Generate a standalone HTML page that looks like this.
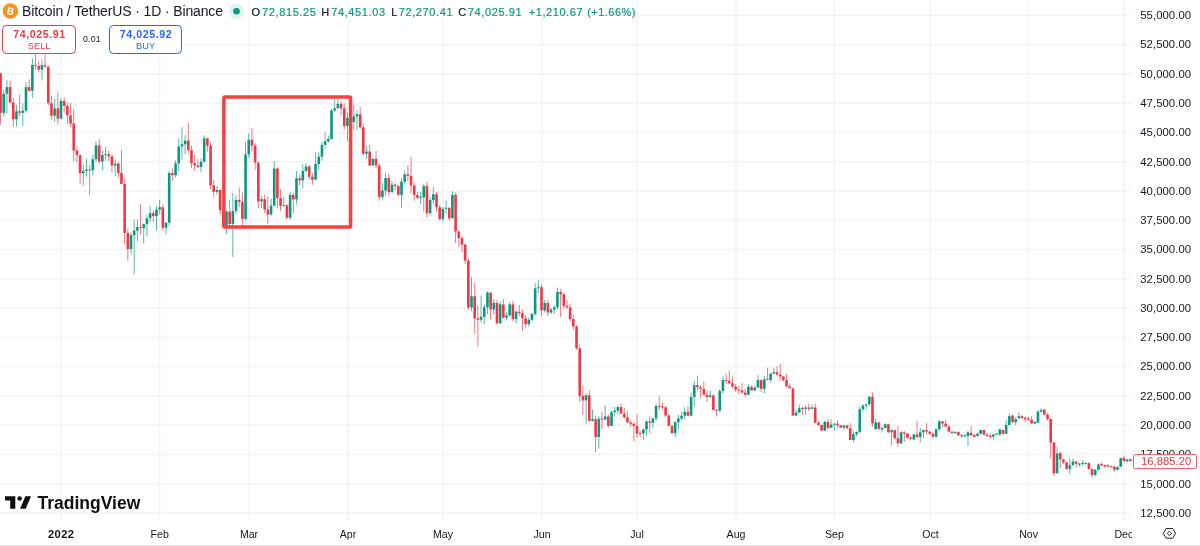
<!DOCTYPE html>
<html><head><meta charset="utf-8">
<style>
*{margin:0;padding:0;box-sizing:border-box}
html,body{width:1200px;height:546px;overflow:hidden;background:#fff}
#root{position:absolute;left:0;top:0;width:1200px;height:546px;will-change:transform}
body{position:relative;font-family:"Liberation Sans",Arial,sans-serif;color:#131722}
svg.chart{position:absolute;left:0;top:0}
.pl{position:absolute;left:1140.2px;height:14px;line-height:14px;font-size:11.3px;letter-spacing:0.08px;color:#131722;white-space:nowrap}
.taxis{position:absolute;left:0;top:520px;width:1132px;height:25px;overflow:hidden}
.tl{position:absolute;top:1px;width:60px;text-align:center;font-size:10.6px;line-height:26px;color:#131722}
.tl.b{font-weight:bold;font-size:11.2px;top:1.2px;letter-spacing:0.3px;text-indent:0.3px}
.title{position:absolute;left:22px;top:4.1px;font-size:14px;line-height:14px;letter-spacing:-0.13px;white-space:nowrap}
.o{position:absolute;top:7.1px;font-size:11px;line-height:11px;white-space:nowrap;color:#089981;letter-spacing:0.62px;-webkit-text-stroke:0.2px #089981}
.o.k{color:#131722;letter-spacing:0;-webkit-text-stroke:0.2px #131722}
.box{position:absolute;top:24.9px;width:73.5px;height:28.8px;border:1.2px solid;border-radius:4.5px;background:#fff}
.box .v{position:absolute;left:0;width:100%;text-align:center;top:3.3px;font-size:10.6px;line-height:10.6px;letter-spacing:0.6px;text-indent:0.6px;font-weight:bold}
.box .s{position:absolute;left:0;width:100%;text-align:center;top:16.2px;font-size:9.2px;line-height:9.2px;letter-spacing:0.1px;text-indent:0.1px}
.sell{left:2.4px;border-color:#F23645;color:#F23645}
.buy{left:108.9px;border-color:#2962FF;color:#2962FF}
.spread{position:absolute;left:83px;top:35.15px;font-size:8.8px;line-height:8.8px;letter-spacing:0.2px;color:#131722}
.tag{position:absolute;left:1133px;top:454.25px;width:63.75px;height:14.5px;border:1px solid #f4606d;border-radius:2px;background:#fff;color:#F23645;font-size:11.3px;line-height:12.5px;padding-left:7px;white-space:nowrap}
.logo{position:absolute;left:37.5px;top:492.8px;font-size:17.5px;font-weight:bold;line-height:20px;color:#0c0e15;white-space:nowrap}
.bline{position:absolute;left:0;top:544.5px;width:1200px;height:1.5px;background:#e0e3eb}
</style></head><body><div id="root">
<svg class="chart" width="1200" height="546" viewBox="0 0 1200 546">
<rect x="60.20" y="0" width="1.6" height="520.5" fill="rgba(50,50,50,0.046)"/>
<rect x="158.90" y="0" width="1.6" height="520.5" fill="rgba(50,50,50,0.046)"/>
<rect x="248.20" y="0" width="1.6" height="520.5" fill="rgba(50,50,50,0.046)"/>
<rect x="347.20" y="0" width="1.6" height="520.5" fill="rgba(50,50,50,0.046)"/>
<rect x="442.20" y="0" width="1.6" height="520.5" fill="rgba(50,50,50,0.046)"/>
<rect x="541.20" y="0" width="1.6" height="520.5" fill="rgba(50,50,50,0.046)"/>
<rect x="636.20" y="0" width="1.6" height="520.5" fill="rgba(50,50,50,0.046)"/>
<rect x="735.20" y="0" width="1.6" height="520.5" fill="rgba(50,50,50,0.046)"/>
<rect x="833.60" y="0" width="1.6" height="520.5" fill="rgba(50,50,50,0.046)"/>
<rect x="929.70" y="0" width="1.6" height="520.5" fill="rgba(50,50,50,0.046)"/>
<rect x="1027.80" y="0" width="1.6" height="520.5" fill="rgba(50,50,50,0.046)"/>
<rect x="1123.10" y="0" width="1.6" height="520.5" fill="rgba(50,50,50,0.046)"/>
<rect x="0" y="14.60" width="1132" height="1.6" fill="rgba(50,50,50,0.046)"/>
<rect x="0" y="43.87" width="1132" height="1.6" fill="rgba(50,50,50,0.046)"/>
<rect x="0" y="73.14" width="1132" height="1.6" fill="rgba(50,50,50,0.046)"/>
<rect x="0" y="102.41" width="1132" height="1.6" fill="rgba(50,50,50,0.046)"/>
<rect x="0" y="131.68" width="1132" height="1.6" fill="rgba(50,50,50,0.046)"/>
<rect x="0" y="160.95" width="1132" height="1.6" fill="rgba(50,50,50,0.046)"/>
<rect x="0" y="190.22" width="1132" height="1.6" fill="rgba(50,50,50,0.046)"/>
<rect x="0" y="219.49" width="1132" height="1.6" fill="rgba(50,50,50,0.046)"/>
<rect x="0" y="248.76" width="1132" height="1.6" fill="rgba(50,50,50,0.046)"/>
<rect x="0" y="278.03" width="1132" height="1.6" fill="rgba(50,50,50,0.046)"/>
<rect x="0" y="307.30" width="1132" height="1.6" fill="rgba(50,50,50,0.046)"/>
<rect x="0" y="336.57" width="1132" height="1.6" fill="rgba(50,50,50,0.046)"/>
<rect x="0" y="365.84" width="1132" height="1.6" fill="rgba(50,50,50,0.046)"/>
<rect x="0" y="395.11" width="1132" height="1.6" fill="rgba(50,50,50,0.046)"/>
<rect x="0" y="424.38" width="1132" height="1.6" fill="rgba(50,50,50,0.046)"/>
<rect x="0" y="453.65" width="1132" height="1.6" fill="rgba(50,50,50,0.046)"/>
<rect x="0" y="482.92" width="1132" height="1.6" fill="rgba(50,50,50,0.046)"/>
<rect x="0" y="512.19" width="1132" height="1.6" fill="rgba(50,50,50,0.046)"/>
<rect x="0" y="4.5" width="636.5" height="12.8" fill="#fff"/>
<g fill="#089981" opacity="0.75"><rect x="3.27" y="89.8" width="0.9" height="26.6"/><rect x="6.45" y="80.1" width="0.9" height="33.4"/><rect x="16.00" y="104.7" width="0.9" height="22.0"/><rect x="22.36" y="103.2" width="0.9" height="22.8"/><rect x="25.54" y="82.0" width="0.9" height="30.8"/><rect x="31.91" y="58.1" width="0.9" height="40.0"/><rect x="41.46" y="59.3" width="0.9" height="21.2"/><rect x="54.19" y="98.9" width="0.9" height="22.6"/><rect x="60.55" y="98.0" width="0.9" height="20.6"/><rect x="82.83" y="164.5" width="0.9" height="20.7"/><rect x="86.01" y="158.6" width="0.9" height="18.2"/><rect x="92.37" y="155.0" width="0.9" height="20.4"/><rect x="95.56" y="141.0" width="0.9" height="21.3"/><rect x="101.92" y="150.6" width="0.9" height="19.7"/><rect x="105.10" y="147.0" width="0.9" height="13.8"/><rect x="114.65" y="159.6" width="0.9" height="16.4"/><rect x="130.56" y="232.2" width="0.9" height="22.0"/><rect x="133.74" y="219.8" width="0.9" height="54.1"/><rect x="136.93" y="219.8" width="0.9" height="21.2"/><rect x="143.29" y="223.4" width="0.9" height="19.8"/><rect x="146.47" y="214.6" width="0.9" height="21.3"/><rect x="149.65" y="206.1" width="0.9" height="15.9"/><rect x="156.02" y="206.1" width="0.9" height="24.6"/><rect x="159.20" y="200.0" width="0.9" height="13.9"/><rect x="165.57" y="222.0" width="0.9" height="12.4"/><rect x="168.75" y="170.7" width="0.9" height="54.9"/><rect x="175.11" y="160.5" width="0.9" height="16.8"/><rect x="178.30" y="138.4" width="0.9" height="33.0"/><rect x="181.48" y="127.0" width="0.9" height="32.7"/><rect x="184.66" y="135.2" width="0.9" height="19.0"/><rect x="200.57" y="158.2" width="0.9" height="14.2"/><rect x="203.75" y="135.5" width="0.9" height="27.1"/><rect x="216.48" y="186.0" width="0.9" height="8.8"/><rect x="226.03" y="209.8" width="0.9" height="23.8"/><rect x="232.39" y="192.9" width="0.9" height="64.1"/><rect x="235.58" y="195.2" width="0.9" height="18.6"/><rect x="245.12" y="142.0" width="0.9" height="78.4"/><rect x="248.31" y="133.5" width="0.9" height="24.5"/><rect x="261.03" y="196.2" width="0.9" height="11.8"/><rect x="270.58" y="198.5" width="0.9" height="17.0"/><rect x="273.76" y="161.3" width="0.9" height="45.4"/><rect x="283.31" y="197.0" width="0.9" height="9.4"/><rect x="289.68" y="192.1" width="0.9" height="27.8"/><rect x="296.04" y="170.9" width="0.9" height="33.6"/><rect x="302.40" y="164.0" width="0.9" height="24.4"/><rect x="305.59" y="163.2" width="0.9" height="9.1"/><rect x="315.13" y="152.2" width="0.9" height="27.8"/><rect x="318.32" y="152.2" width="0.9" height="17.8"/><rect x="321.50" y="142.0" width="0.9" height="19.0"/><rect x="324.68" y="132.2" width="0.9" height="16.4"/><rect x="327.86" y="135.4" width="0.9" height="7.3"/><rect x="331.05" y="109.0" width="0.9" height="30.0"/><rect x="334.23" y="99.0" width="0.9" height="13.0"/><rect x="337.41" y="99.0" width="0.9" height="9.3"/><rect x="346.96" y="112.7" width="0.9" height="28.5"/><rect x="353.32" y="104.6" width="0.9" height="25.7"/><rect x="356.50" y="110.5" width="0.9" height="19.8"/><rect x="366.05" y="145.7" width="0.9" height="13.2"/><rect x="372.42" y="158.2" width="0.9" height="7.3"/><rect x="381.96" y="183.2" width="0.9" height="16.1"/><rect x="385.14" y="172.9" width="0.9" height="22.7"/><rect x="391.51" y="181.0" width="0.9" height="12.4"/><rect x="401.06" y="178.0" width="0.9" height="30.0"/><rect x="404.24" y="170.6" width="0.9" height="14.0"/><rect x="420.15" y="192.0" width="0.9" height="11.7"/><rect x="423.33" y="183.9" width="0.9" height="27.8"/><rect x="429.70" y="197.1" width="0.9" height="18.3"/><rect x="432.88" y="186.8" width="0.9" height="17.6"/><rect x="442.43" y="206.6" width="0.9" height="14.6"/><rect x="445.61" y="200.7" width="0.9" height="13.2"/><rect x="451.97" y="191.2" width="0.9" height="27.1"/><rect x="471.07" y="276.9" width="0.9" height="34.1"/><rect x="480.61" y="295.6" width="0.9" height="27.1"/><rect x="483.80" y="304.4" width="0.9" height="19.7"/><rect x="486.98" y="291.2" width="0.9" height="22.7"/><rect x="493.34" y="299.2" width="0.9" height="15.4"/><rect x="499.71" y="301.4" width="0.9" height="22.0"/><rect x="506.07" y="312.4" width="0.9" height="8.1"/><rect x="509.25" y="302.2" width="0.9" height="13.9"/><rect x="515.62" y="310.2" width="0.9" height="13.2"/><rect x="528.35" y="317.6" width="0.9" height="8.8"/><rect x="531.53" y="313.2" width="0.9" height="8.0"/><rect x="534.71" y="282.9" width="0.9" height="32.8"/><rect x="537.89" y="280.2" width="0.9" height="13.2"/><rect x="544.26" y="300.0" width="0.9" height="12.5"/><rect x="550.62" y="308.0" width="0.9" height="5.9"/><rect x="553.81" y="305.9" width="0.9" height="8.0"/><rect x="556.99" y="287.6" width="0.9" height="21.9"/><rect x="585.63" y="393.0" width="0.9" height="30.8"/><rect x="591.99" y="409.2" width="0.9" height="12.4"/><rect x="598.36" y="415.7" width="0.9" height="33.0"/><rect x="604.72" y="405.2" width="0.9" height="14.9"/><rect x="611.09" y="410.6" width="0.9" height="15.4"/><rect x="614.27" y="407.0" width="0.9" height="9.5"/><rect x="617.45" y="405.5" width="0.9" height="8.8"/><rect x="642.91" y="428.7" width="0.9" height="11.0"/><rect x="646.09" y="420.6" width="0.9" height="15.4"/><rect x="652.46" y="417.7" width="0.9" height="10.3"/><rect x="655.64" y="403.8" width="0.9" height="17.6"/><rect x="674.73" y="421.4" width="0.9" height="16.1"/><rect x="677.92" y="414.8" width="0.9" height="14.6"/><rect x="681.10" y="411.9" width="0.9" height="8.0"/><rect x="684.28" y="407.3" width="0.9" height="11.9"/><rect x="690.65" y="392.5" width="0.9" height="24.0"/><rect x="693.83" y="380.7" width="0.9" height="25.7"/><rect x="709.74" y="390.3" width="0.9" height="8.0"/><rect x="719.29" y="388.8" width="0.9" height="23.4"/><rect x="722.47" y="376.4" width="0.9" height="17.5"/><rect x="747.93" y="384.2" width="0.9" height="10.6"/><rect x="754.29" y="385.3" width="0.9" height="5.8"/><rect x="757.47" y="375.0" width="0.9" height="13.2"/><rect x="763.84" y="375.7" width="0.9" height="17.6"/><rect x="770.20" y="373.6" width="0.9" height="8.7"/><rect x="773.39" y="367.7" width="0.9" height="6.6"/><rect x="795.66" y="409.7" width="0.9" height="6.5"/><rect x="798.84" y="404.5" width="0.9" height="8.1"/><rect x="805.21" y="405.3" width="0.9" height="9.5"/><rect x="811.57" y="404.5" width="0.9" height="4.4"/><rect x="824.30" y="420.5" width="0.9" height="10.4"/><rect x="830.67" y="419.3" width="0.9" height="8.7"/><rect x="833.85" y="423.2" width="0.9" height="7.2"/><rect x="843.40" y="425.0" width="0.9" height="4.8"/><rect x="852.94" y="431.2" width="0.9" height="11.0"/><rect x="856.12" y="431.2" width="0.9" height="5.2"/><rect x="859.31" y="406.4" width="0.9" height="27.0"/><rect x="862.49" y="404.2" width="0.9" height="7.3"/><rect x="865.67" y="403.5" width="0.9" height="5.8"/><rect x="868.85" y="396.1" width="0.9" height="10.3"/><rect x="875.22" y="418.9" width="0.9" height="10.9"/><rect x="881.58" y="426.5" width="0.9" height="6.0"/><rect x="884.77" y="423.1" width="0.9" height="4.9"/><rect x="891.13" y="429.4" width="0.9" height="16.1"/><rect x="900.68" y="430.9" width="0.9" height="13.1"/><rect x="913.41" y="433.8" width="0.9" height="5.9"/><rect x="919.77" y="428.0" width="0.9" height="14.6"/><rect x="922.95" y="429.4" width="0.9" height="8.8"/><rect x="935.68" y="428.4" width="0.9" height="9.1"/><rect x="938.86" y="419.9" width="0.9" height="11.0"/><rect x="954.78" y="431.0" width="0.9" height="2.5"/><rect x="964.32" y="434.5" width="0.9" height="2.7"/><rect x="967.51" y="430.9" width="0.9" height="15.3"/><rect x="977.05" y="432.3" width="0.9" height="4.4"/><rect x="980.23" y="429.4" width="0.9" height="5.1"/><rect x="992.96" y="434.0" width="0.9" height="6.4"/><rect x="996.15" y="433.1" width="0.9" height="1.8"/><rect x="999.33" y="428.7" width="0.9" height="7.3"/><rect x="1005.69" y="420.2" width="0.9" height="13.6"/><rect x="1008.88" y="413.3" width="0.9" height="11.7"/><rect x="1015.24" y="417.0" width="0.9" height="8.0"/><rect x="1018.42" y="412.6" width="0.9" height="5.8"/><rect x="1034.33" y="421.2" width="0.9" height="3.0"/><rect x="1037.52" y="410.2" width="0.9" height="12.5"/><rect x="1040.70" y="408.1" width="0.9" height="4.3"/><rect x="1056.61" y="446.9" width="0.9" height="27.0"/><rect x="1069.34" y="458.3" width="0.9" height="15.7"/><rect x="1072.52" y="458.7" width="0.9" height="6.7"/><rect x="1078.89" y="462.5" width="0.9" height="4.4"/><rect x="1082.07" y="460.3" width="0.9" height="5.1"/><rect x="1085.25" y="462.5" width="0.9" height="2.2"/><rect x="1094.80" y="469.0" width="0.9" height="7.4"/><rect x="1097.98" y="463.4" width="0.9" height="7.1"/><rect x="1117.07" y="466.6" width="0.9" height="3.9"/><rect x="1120.26" y="457.6" width="0.9" height="9.2"/><rect x="1126.62" y="458.7" width="0.9" height="4.0"/></g><g fill="#F23645" opacity="0.75"><rect x="0.09" y="73.0" width="0.9" height="51.5"/><rect x="9.63" y="81.0" width="0.9" height="22.2"/><rect x="12.82" y="98.0" width="0.9" height="28.7"/><rect x="19.18" y="94.5" width="0.9" height="21.9"/><rect x="28.73" y="79.0" width="0.9" height="12.5"/><rect x="35.09" y="54.2" width="0.9" height="15.4"/><rect x="38.27" y="60.8" width="0.9" height="11.0"/><rect x="44.64" y="54.2" width="0.9" height="13.9"/><rect x="47.82" y="65.9" width="0.9" height="39.5"/><rect x="51.00" y="95.9" width="0.9" height="23.7"/><rect x="57.37" y="91.5" width="0.9" height="33.0"/><rect x="63.73" y="97.6" width="0.9" height="14.9"/><rect x="66.91" y="102.5" width="0.9" height="21.7"/><rect x="70.10" y="103.0" width="0.9" height="23.8"/><rect x="73.28" y="108.8" width="0.9" height="52.7"/><rect x="76.46" y="146.2" width="0.9" height="16.1"/><rect x="79.64" y="155.0" width="0.9" height="29.2"/><rect x="89.19" y="165.0" width="0.9" height="30.1"/><rect x="98.74" y="138.6" width="0.9" height="25.1"/><rect x="108.28" y="150.6" width="0.9" height="10.2"/><rect x="111.47" y="154.2" width="0.9" height="18.2"/><rect x="117.83" y="162.0" width="0.9" height="15.6"/><rect x="121.01" y="150.2" width="0.9" height="34.3"/><rect x="124.20" y="178.4" width="0.9" height="65.5"/><rect x="127.38" y="228.5" width="0.9" height="32.3"/><rect x="140.11" y="204.1" width="0.9" height="30.3"/><rect x="152.84" y="210.2" width="0.9" height="11.8"/><rect x="162.38" y="204.4" width="0.9" height="26.3"/><rect x="171.93" y="169.0" width="0.9" height="12.0"/><rect x="187.84" y="123.0" width="0.9" height="30.0"/><rect x="191.02" y="145.7" width="0.9" height="22.0"/><rect x="194.21" y="154.8" width="0.9" height="15.8"/><rect x="197.39" y="158.9" width="0.9" height="9.5"/><rect x="206.94" y="137.7" width="0.9" height="13.9"/><rect x="210.12" y="142.1" width="0.9" height="46.8"/><rect x="213.30" y="180.2" width="0.9" height="16.8"/><rect x="219.67" y="189.6" width="0.9" height="24.9"/><rect x="222.85" y="208.0" width="0.9" height="20.0"/><rect x="229.21" y="199.9" width="0.9" height="26.1"/><rect x="238.76" y="187.4" width="0.9" height="19.8"/><rect x="241.94" y="192.5" width="0.9" height="33.0"/><rect x="251.49" y="128.0" width="0.9" height="23.5"/><rect x="254.67" y="143.4" width="0.9" height="26.4"/><rect x="257.85" y="161.7" width="0.9" height="46.3"/><rect x="264.22" y="194.8" width="0.9" height="18.2"/><rect x="267.40" y="196.2" width="0.9" height="27.3"/><rect x="276.95" y="167.6" width="0.9" height="40.6"/><rect x="280.13" y="189.0" width="0.9" height="22.1"/><rect x="286.49" y="203.8" width="0.9" height="15.4"/><rect x="292.86" y="192.5" width="0.9" height="20.8"/><rect x="299.22" y="174.5" width="0.9" height="11.0"/><rect x="308.77" y="164.7" width="0.9" height="14.9"/><rect x="311.95" y="173.0" width="0.9" height="11.8"/><rect x="340.59" y="101.0" width="0.9" height="14.6"/><rect x="343.77" y="103.2" width="0.9" height="26.3"/><rect x="350.14" y="113.0" width="0.9" height="13.0"/><rect x="359.69" y="106.8" width="0.9" height="22.0"/><rect x="362.87" y="123.7" width="0.9" height="31.3"/><rect x="369.23" y="145.0" width="0.9" height="21.2"/><rect x="375.60" y="150.9" width="0.9" height="17.5"/><rect x="378.78" y="163.3" width="0.9" height="37.4"/><rect x="388.33" y="173.6" width="0.9" height="22.0"/><rect x="394.69" y="183.2" width="0.9" height="7.3"/><rect x="397.87" y="184.6" width="0.9" height="11.0"/><rect x="407.42" y="165.5" width="0.9" height="15.5"/><rect x="410.60" y="156.7" width="0.9" height="36.7"/><rect x="413.79" y="182.4" width="0.9" height="18.3"/><rect x="416.97" y="192.0" width="0.9" height="7.3"/><rect x="426.51" y="181.7" width="0.9" height="35.9"/><rect x="436.06" y="192.0" width="0.9" height="19.7"/><rect x="439.24" y="205.1" width="0.9" height="14.7"/><rect x="448.79" y="207.3" width="0.9" height="13.2"/><rect x="455.16" y="192.7" width="0.9" height="50.5"/><rect x="458.34" y="230.0" width="0.9" height="16.9"/><rect x="461.52" y="235.9" width="0.9" height="16.1"/><rect x="464.70" y="243.9" width="0.9" height="20.5"/><rect x="467.88" y="258.5" width="0.9" height="51.5"/><rect x="474.25" y="283.1" width="0.9" height="50.5"/><rect x="477.43" y="305.1" width="0.9" height="41.7"/><rect x="490.16" y="292.6" width="0.9" height="26.4"/><rect x="496.53" y="300.0" width="0.9" height="24.1"/><rect x="502.89" y="299.2" width="0.9" height="19.8"/><rect x="512.44" y="300.7" width="0.9" height="20.5"/><rect x="518.80" y="305.1" width="0.9" height="11.0"/><rect x="521.98" y="309.5" width="0.9" height="21.8"/><rect x="525.17" y="315.4" width="0.9" height="12.4"/><rect x="541.08" y="284.6" width="0.9" height="31.5"/><rect x="547.44" y="300.0" width="0.9" height="16.1"/><rect x="560.17" y="289.0" width="0.9" height="27.9"/><rect x="563.35" y="292.7" width="0.9" height="16.8"/><rect x="566.54" y="300.0" width="0.9" height="8.8"/><rect x="569.72" y="303.7" width="0.9" height="17.5"/><rect x="572.90" y="314.7" width="0.9" height="15.3"/><rect x="576.08" y="325.0" width="0.9" height="25.0"/><rect x="579.26" y="344.6" width="0.9" height="57.1"/><rect x="582.45" y="385.6" width="0.9" height="29.4"/><rect x="588.81" y="390.1" width="0.9" height="31.5"/><rect x="595.18" y="415.7" width="0.9" height="36.6"/><rect x="601.54" y="412.0" width="0.9" height="16.9"/><rect x="607.91" y="414.3" width="0.9" height="13.2"/><rect x="620.63" y="403.3" width="0.9" height="10.3"/><rect x="623.82" y="407.7" width="0.9" height="11.0"/><rect x="627.00" y="411.4" width="0.9" height="11.6"/><rect x="630.18" y="419.9" width="0.9" height="6.7"/><rect x="633.36" y="423.0" width="0.9" height="18.2"/><rect x="636.55" y="414.5" width="0.9" height="22.7"/><rect x="639.73" y="431.0" width="0.9" height="6.2"/><rect x="649.28" y="416.2" width="0.9" height="16.9"/><rect x="658.82" y="395.7" width="0.9" height="14.7"/><rect x="662.00" y="402.3" width="0.9" height="6.6"/><rect x="665.19" y="406.0" width="0.9" height="11.0"/><rect x="668.37" y="414.0" width="0.9" height="12.5"/><rect x="671.55" y="425.0" width="0.9" height="8.8"/><rect x="687.46" y="405.8" width="0.9" height="10.4"/><rect x="697.01" y="375.6" width="0.9" height="15.4"/><rect x="700.19" y="385.1" width="0.9" height="12.5"/><rect x="703.37" y="381.5" width="0.9" height="13.9"/><rect x="706.56" y="390.3" width="0.9" height="11.7"/><rect x="712.92" y="394.7" width="0.9" height="15.3"/><rect x="716.10" y="409.3" width="0.9" height="7.3"/><rect x="725.65" y="373.5" width="0.9" height="10.5"/><rect x="728.83" y="371.0" width="0.9" height="13.1"/><rect x="732.02" y="376.5" width="0.9" height="10.9"/><rect x="735.20" y="384.1" width="0.9" height="7.7"/><rect x="738.38" y="386.0" width="0.9" height="8.0"/><rect x="741.56" y="383.0" width="0.9" height="10.3"/><rect x="744.74" y="388.2" width="0.9" height="8.8"/><rect x="751.11" y="385.5" width="0.9" height="4.9"/><rect x="760.66" y="379.4" width="0.9" height="12.5"/><rect x="767.02" y="367.7" width="0.9" height="12.4"/><rect x="776.57" y="366.2" width="0.9" height="10.3"/><rect x="779.75" y="364.0" width="0.9" height="16.9"/><rect x="782.93" y="375.7" width="0.9" height="6.0"/><rect x="786.11" y="373.7" width="0.9" height="13.9"/><rect x="789.30" y="383.3" width="0.9" height="5.1"/><rect x="792.48" y="387.7" width="0.9" height="27.8"/><rect x="802.03" y="406.7" width="0.9" height="8.1"/><rect x="808.39" y="403.8" width="0.9" height="7.3"/><rect x="814.76" y="403.4" width="0.9" height="19.4"/><rect x="817.94" y="420.6" width="0.9" height="5.2"/><rect x="821.12" y="424.3" width="0.9" height="6.6"/><rect x="827.48" y="418.9" width="0.9" height="11.5"/><rect x="837.03" y="420.3" width="0.9" height="7.3"/><rect x="840.21" y="425.0" width="0.9" height="3.3"/><rect x="846.58" y="425.0" width="0.9" height="4.0"/><rect x="849.76" y="423.2" width="0.9" height="16.8"/><rect x="872.04" y="392.4" width="0.9" height="34.3"/><rect x="878.40" y="421.5" width="0.9" height="8.8"/><rect x="887.95" y="423.5" width="0.9" height="9.3"/><rect x="894.31" y="429.8" width="0.9" height="9.9"/><rect x="897.49" y="425.7" width="0.9" height="21.3"/><rect x="903.86" y="430.9" width="0.9" height="11.0"/><rect x="907.04" y="433.1" width="0.9" height="5.8"/><rect x="910.22" y="436.0" width="0.9" height="4.4"/><rect x="916.59" y="420.6" width="0.9" height="17.9"/><rect x="926.14" y="423.1" width="0.9" height="11.4"/><rect x="929.32" y="431.0" width="0.9" height="3.5"/><rect x="932.50" y="432.5" width="0.9" height="5.0"/><rect x="942.05" y="421.0" width="0.9" height="6.2"/><rect x="945.23" y="419.9" width="0.9" height="7.3"/><rect x="948.41" y="424.5" width="0.9" height="7.8"/><rect x="951.59" y="430.9" width="0.9" height="2.9"/><rect x="957.96" y="431.3" width="0.9" height="4.7"/><rect x="961.14" y="434.0" width="0.9" height="4.2"/><rect x="970.69" y="425.7" width="0.9" height="10.1"/><rect x="973.87" y="434.5" width="0.9" height="2.5"/><rect x="983.42" y="429.4" width="0.9" height="5.9"/><rect x="986.60" y="433.1" width="0.9" height="3.6"/><rect x="989.78" y="433.1" width="0.9" height="5.8"/><rect x="1002.51" y="429.4" width="0.9" height="5.9"/><rect x="1012.06" y="414.8" width="0.9" height="8.0"/><rect x="1021.60" y="414.8" width="0.9" height="4.4"/><rect x="1024.79" y="416.8" width="0.9" height="5.3"/><rect x="1027.97" y="416.8" width="0.9" height="4.4"/><rect x="1031.15" y="416.1" width="0.9" height="8.1"/><rect x="1043.88" y="408.8" width="0.9" height="6.6"/><rect x="1047.06" y="413.2" width="0.9" height="7.3"/><rect x="1050.25" y="418.3" width="0.9" height="40.3"/><rect x="1053.43" y="441.7" width="0.9" height="34.4"/><rect x="1059.79" y="452.0" width="0.9" height="16.1"/><rect x="1062.97" y="458.6" width="0.9" height="5.6"/><rect x="1066.16" y="461.5" width="0.9" height="8.1"/><rect x="1075.70" y="460.3" width="0.9" height="7.3"/><rect x="1088.43" y="462.5" width="0.9" height="7.3"/><rect x="1091.62" y="468.3" width="0.9" height="9.5"/><rect x="1101.16" y="462.5" width="0.9" height="3.6"/><rect x="1104.34" y="464.7" width="0.9" height="2.9"/><rect x="1107.53" y="464.0" width="0.9" height="3.6"/><rect x="1110.71" y="465.4" width="0.9" height="2.2"/><rect x="1113.89" y="466.1" width="0.9" height="5.9"/><rect x="1123.44" y="456.0" width="0.9" height="6.0"/><rect x="1129.80" y="458.3" width="0.9" height="3.7"/></g><g fill="#089981"><rect x="2.42" y="93.7" width="2.6" height="19.1"/><rect x="5.60" y="87.1" width="2.6" height="6.6"/><rect x="15.15" y="111.3" width="2.6" height="8.0"/><rect x="21.51" y="110.6" width="2.6" height="2.2"/><rect x="24.69" y="87.1" width="2.6" height="23.5"/><rect x="31.06" y="64.9" width="2.6" height="25.9"/><rect x="40.61" y="65.2" width="2.6" height="4.4"/><rect x="53.34" y="108.4" width="2.6" height="7.3"/><rect x="59.70" y="101.0" width="2.6" height="17.6"/><rect x="81.98" y="171.0" width="2.6" height="2.2"/><rect x="85.16" y="169.5" width="2.6" height="1.5"/><rect x="91.52" y="159.3" width="2.6" height="10.9"/><rect x="94.71" y="145.4" width="2.6" height="13.9"/><rect x="101.07" y="155.0" width="2.6" height="6.5"/><rect x="104.25" y="154.1" width="2.6" height="1.0"/><rect x="113.80" y="163.7" width="2.6" height="1.8"/><rect x="129.71" y="235.1" width="2.6" height="13.9"/><rect x="132.89" y="230.7" width="2.6" height="4.4"/><rect x="136.08" y="227.1" width="2.6" height="3.6"/><rect x="142.44" y="224.2" width="2.6" height="3.9"/><rect x="145.62" y="218.3" width="2.6" height="5.9"/><rect x="148.80" y="213.2" width="2.6" height="5.1"/><rect x="155.17" y="209.5" width="2.6" height="6.6"/><rect x="158.35" y="207.3" width="2.6" height="2.2"/><rect x="164.72" y="222.7" width="2.6" height="5.1"/><rect x="167.90" y="173.0" width="2.6" height="49.7"/><rect x="174.26" y="163.4" width="2.6" height="11.7"/><rect x="177.45" y="146.5" width="2.6" height="16.9"/><rect x="180.63" y="144.3" width="2.6" height="2.2"/><rect x="183.81" y="140.6" width="2.6" height="3.7"/><rect x="199.72" y="161.8" width="2.6" height="5.2"/><rect x="202.90" y="138.4" width="2.6" height="23.4"/><rect x="215.63" y="190.0" width="2.6" height="1.9"/><rect x="225.18" y="211.6" width="2.6" height="13.9"/><rect x="231.54" y="210.9" width="2.6" height="13.1"/><rect x="234.73" y="199.9" width="2.6" height="11.0"/><rect x="244.27" y="154.4" width="2.6" height="64.5"/><rect x="247.46" y="139.8" width="2.6" height="14.6"/><rect x="260.18" y="199.2" width="2.6" height="2.2"/><rect x="269.73" y="205.5" width="2.6" height="9.0"/><rect x="272.91" y="168.5" width="2.6" height="37.0"/><rect x="282.46" y="205.2" width="2.6" height="1.0"/><rect x="288.83" y="195.0" width="2.6" height="22.7"/><rect x="295.19" y="178.2" width="2.6" height="21.2"/><rect x="301.55" y="170.9" width="2.6" height="9.5"/><rect x="304.74" y="166.5" width="2.6" height="4.4"/><rect x="314.28" y="164.0" width="2.6" height="15.6"/><rect x="317.47" y="156.6" width="2.6" height="7.4"/><rect x="320.65" y="144.9" width="2.6" height="11.7"/><rect x="323.83" y="141.2" width="2.6" height="3.7"/><rect x="327.01" y="139.0" width="2.6" height="2.2"/><rect x="330.20" y="110.5" width="2.6" height="28.5"/><rect x="333.38" y="108.3" width="2.6" height="2.2"/><rect x="336.56" y="103.9" width="2.6" height="4.4"/><rect x="346.11" y="117.8" width="2.6" height="8.1"/><rect x="352.47" y="116.4" width="2.6" height="5.6"/><rect x="355.65" y="114.2" width="2.6" height="2.2"/><rect x="365.20" y="151.6" width="2.6" height="2.1"/><rect x="371.57" y="158.9" width="2.6" height="6.6"/><rect x="381.11" y="190.5" width="2.6" height="6.6"/><rect x="384.29" y="178.0" width="2.6" height="12.5"/><rect x="390.66" y="184.6" width="2.6" height="7.4"/><rect x="400.21" y="181.7" width="2.6" height="13.2"/><rect x="403.39" y="174.4" width="2.6" height="7.3"/><rect x="419.30" y="196.9" width="2.6" height="1.0"/><rect x="422.48" y="186.1" width="2.6" height="11.0"/><rect x="428.85" y="200.0" width="2.6" height="13.2"/><rect x="432.03" y="194.2" width="2.6" height="5.8"/><rect x="441.58" y="208.8" width="2.6" height="10.2"/><rect x="444.76" y="207.8" width="2.6" height="1.0"/><rect x="451.12" y="194.9" width="2.6" height="23.4"/><rect x="470.22" y="296.3" width="2.6" height="11.2"/><rect x="479.76" y="316.8" width="2.6" height="2.9"/><rect x="482.95" y="307.3" width="2.6" height="9.5"/><rect x="486.13" y="292.6" width="2.6" height="14.7"/><rect x="492.49" y="302.9" width="2.6" height="6.6"/><rect x="498.86" y="304.4" width="2.6" height="19.0"/><rect x="505.22" y="315.3" width="2.6" height="2.2"/><rect x="508.40" y="304.4" width="2.6" height="10.9"/><rect x="514.77" y="311.7" width="2.6" height="7.3"/><rect x="527.50" y="319.8" width="2.6" height="4.4"/><rect x="530.68" y="313.9" width="2.6" height="5.9"/><rect x="533.86" y="288.3" width="2.6" height="25.6"/><rect x="537.05" y="287.3" width="2.6" height="1.0"/><rect x="543.41" y="303.0" width="2.6" height="7.3"/><rect x="549.77" y="309.5" width="2.6" height="3.0"/><rect x="552.96" y="307.3" width="2.6" height="2.2"/><rect x="556.14" y="292.0" width="2.6" height="15.3"/><rect x="584.78" y="395.2" width="2.6" height="5.2"/><rect x="591.14" y="419.1" width="2.6" height="1.8"/><rect x="597.51" y="418.7" width="2.6" height="18.3"/><rect x="603.87" y="416.5" width="2.6" height="3.0"/><rect x="610.24" y="412.1" width="2.6" height="13.9"/><rect x="613.42" y="410.6" width="2.6" height="1.5"/><rect x="616.60" y="407.0" width="2.6" height="3.6"/><rect x="642.06" y="429.4" width="2.6" height="4.0"/><rect x="645.24" y="421.4" width="2.6" height="8.0"/><rect x="651.61" y="418.4" width="2.6" height="4.4"/><rect x="654.79" y="406.0" width="2.6" height="12.4"/><rect x="673.88" y="422.1" width="2.6" height="11.0"/><rect x="677.07" y="418.6" width="2.6" height="3.5"/><rect x="680.25" y="415.7" width="2.6" height="2.9"/><rect x="683.43" y="411.7" width="2.6" height="4.0"/><rect x="689.80" y="396.9" width="2.6" height="18.8"/><rect x="692.98" y="385.1" width="2.6" height="11.8"/><rect x="708.89" y="395.4" width="2.6" height="1.5"/><rect x="718.44" y="391.0" width="2.6" height="19.5"/><rect x="721.62" y="380.0" width="2.6" height="11.0"/><rect x="747.08" y="386.7" width="2.6" height="8.1"/><rect x="753.44" y="387.5" width="2.6" height="2.9"/><rect x="756.62" y="380.1" width="2.6" height="7.4"/><rect x="762.99" y="379.4" width="2.6" height="9.5"/><rect x="769.35" y="373.6" width="2.6" height="6.3"/><rect x="772.54" y="372.2" width="2.6" height="1.4"/><rect x="794.81" y="412.6" width="2.6" height="2.9"/><rect x="797.99" y="408.2" width="2.6" height="4.4"/><rect x="804.36" y="407.5" width="2.6" height="1.4"/><rect x="810.72" y="407.5" width="2.6" height="1.4"/><rect x="823.45" y="421.9" width="2.6" height="8.8"/><rect x="829.82" y="424.5" width="2.6" height="3.3"/><rect x="833.00" y="423.6" width="2.6" height="1.0"/><rect x="842.55" y="425.4" width="2.6" height="2.2"/><rect x="852.09" y="434.2" width="2.6" height="5.8"/><rect x="855.28" y="432.0" width="2.6" height="2.2"/><rect x="858.46" y="409.3" width="2.6" height="22.7"/><rect x="861.64" y="405.6" width="2.6" height="3.7"/><rect x="864.82" y="404.2" width="2.6" height="1.4"/><rect x="868.00" y="396.8" width="2.6" height="7.4"/><rect x="874.37" y="422.3" width="2.6" height="6.9"/><rect x="880.73" y="428.0" width="2.6" height="1.5"/><rect x="883.92" y="424.3" width="2.6" height="3.7"/><rect x="890.28" y="430.1" width="2.6" height="2.2"/><rect x="899.83" y="432.3" width="2.6" height="11.0"/><rect x="912.56" y="434.5" width="2.6" height="5.0"/><rect x="918.92" y="432.3" width="2.6" height="4.6"/><rect x="922.10" y="430.1" width="2.6" height="2.2"/><rect x="934.83" y="429.4" width="2.6" height="7.3"/><rect x="938.01" y="421.4" width="2.6" height="8.0"/><rect x="953.93" y="432.0" width="2.6" height="1.1"/><rect x="963.47" y="435.3" width="2.6" height="1.2"/><rect x="966.66" y="432.3" width="2.6" height="3.5"/><rect x="976.20" y="433.8" width="2.6" height="2.2"/><rect x="979.38" y="430.1" width="2.6" height="3.7"/><rect x="992.11" y="434.5" width="2.6" height="2.2"/><rect x="995.30" y="433.6" width="2.6" height="1.0"/><rect x="998.48" y="429.4" width="2.6" height="5.1"/><rect x="1004.84" y="425.0" width="2.6" height="8.8"/><rect x="1008.03" y="416.2" width="2.6" height="8.8"/><rect x="1014.39" y="419.2" width="2.6" height="2.9"/><rect x="1017.57" y="416.2" width="2.6" height="2.2"/><rect x="1033.48" y="422.0" width="2.6" height="1.4"/><rect x="1036.67" y="411.7" width="2.6" height="11.0"/><rect x="1039.85" y="410.2" width="2.6" height="1.5"/><rect x="1055.76" y="453.4" width="2.6" height="19.8"/><rect x="1068.49" y="465.3" width="2.6" height="3.6"/><rect x="1071.67" y="461.5" width="2.6" height="3.8"/><rect x="1078.04" y="463.6" width="2.6" height="1.1"/><rect x="1081.22" y="462.9" width="2.6" height="1.0"/><rect x="1084.40" y="462.9" width="2.6" height="1.0"/><rect x="1093.95" y="469.8" width="2.6" height="5.1"/><rect x="1097.13" y="464.5" width="2.6" height="5.3"/><rect x="1116.22" y="466.9" width="2.6" height="2.9"/><rect x="1119.41" y="458.2" width="2.6" height="8.6"/><rect x="1125.77" y="459.4" width="2.6" height="1.8"/></g><g fill="#F23645"><rect x="-0.76" y="73.2" width="2.6" height="39.6"/><rect x="8.78" y="87.1" width="2.6" height="15.4"/><rect x="11.97" y="102.5" width="2.6" height="16.8"/><rect x="18.33" y="111.3" width="2.6" height="1.5"/><rect x="27.88" y="87.1" width="2.6" height="3.7"/><rect x="34.24" y="64.9" width="2.6" height="1.1"/><rect x="37.42" y="66.0" width="2.6" height="3.6"/><rect x="43.79" y="65.2" width="2.6" height="1.4"/><rect x="46.97" y="66.6" width="2.6" height="36.6"/><rect x="50.15" y="103.2" width="2.6" height="12.5"/><rect x="56.52" y="108.4" width="2.6" height="10.2"/><rect x="62.88" y="101.0" width="2.6" height="4.9"/><rect x="66.06" y="105.9" width="2.6" height="9.5"/><rect x="69.25" y="115.4" width="2.6" height="8.1"/><rect x="72.43" y="123.5" width="2.6" height="27.1"/><rect x="75.61" y="150.6" width="2.6" height="4.4"/><rect x="78.79" y="155.0" width="2.6" height="18.2"/><rect x="88.34" y="169.3" width="2.6" height="1.0"/><rect x="97.89" y="145.4" width="2.6" height="16.1"/><rect x="107.43" y="154.2" width="2.6" height="2.2"/><rect x="110.62" y="156.4" width="2.6" height="9.1"/><rect x="116.98" y="163.7" width="2.6" height="9.3"/><rect x="120.16" y="173.0" width="2.6" height="11.0"/><rect x="123.35" y="184.0" width="2.6" height="48.9"/><rect x="126.53" y="232.9" width="2.6" height="16.1"/><rect x="139.26" y="227.1" width="2.6" height="1.0"/><rect x="151.99" y="213.2" width="2.6" height="2.9"/><rect x="161.53" y="207.3" width="2.6" height="20.5"/><rect x="171.08" y="173.0" width="2.6" height="2.1"/><rect x="186.99" y="140.6" width="2.6" height="9.5"/><rect x="190.17" y="150.1" width="2.6" height="13.2"/><rect x="193.36" y="163.3" width="2.6" height="2.2"/><rect x="196.54" y="165.5" width="2.6" height="1.5"/><rect x="206.09" y="138.4" width="2.6" height="7.3"/><rect x="209.27" y="145.7" width="2.6" height="39.6"/><rect x="212.45" y="185.3" width="2.6" height="6.6"/><rect x="218.81" y="190.0" width="2.6" height="20.1"/><rect x="222.00" y="210.1" width="2.6" height="15.4"/><rect x="228.36" y="211.6" width="2.6" height="12.4"/><rect x="237.91" y="199.9" width="2.6" height="2.2"/><rect x="241.09" y="202.1" width="2.6" height="16.8"/><rect x="250.64" y="139.8" width="2.6" height="5.8"/><rect x="253.82" y="145.6" width="2.6" height="16.9"/><rect x="257.00" y="162.5" width="2.6" height="38.9"/><rect x="263.37" y="199.2" width="2.6" height="10.2"/><rect x="266.55" y="209.4" width="2.6" height="5.1"/><rect x="276.10" y="168.5" width="2.6" height="29.5"/><rect x="279.28" y="198.0" width="2.6" height="8.0"/><rect x="285.64" y="205.3" width="2.6" height="12.4"/><rect x="292.01" y="195.0" width="2.6" height="4.4"/><rect x="298.37" y="178.2" width="2.6" height="2.2"/><rect x="307.92" y="166.5" width="2.6" height="10.2"/><rect x="311.10" y="176.7" width="2.6" height="2.9"/><rect x="339.74" y="103.9" width="2.6" height="4.4"/><rect x="342.92" y="108.3" width="2.6" height="17.6"/><rect x="349.29" y="117.8" width="2.6" height="4.2"/><rect x="358.84" y="114.2" width="2.6" height="13.1"/><rect x="362.02" y="127.3" width="2.6" height="26.4"/><rect x="368.38" y="151.6" width="2.6" height="13.9"/><rect x="374.75" y="158.9" width="2.6" height="6.6"/><rect x="377.93" y="165.5" width="2.6" height="31.6"/><rect x="387.48" y="178.0" width="2.6" height="14.0"/><rect x="393.84" y="184.6" width="2.6" height="1.5"/><rect x="397.02" y="186.1" width="2.6" height="8.8"/><rect x="406.57" y="174.4" width="2.6" height="1.5"/><rect x="409.75" y="175.9" width="2.6" height="9.5"/><rect x="412.94" y="185.4" width="2.6" height="9.5"/><rect x="416.12" y="194.9" width="2.6" height="2.9"/><rect x="425.66" y="186.1" width="2.6" height="27.1"/><rect x="435.21" y="194.2" width="2.6" height="13.1"/><rect x="438.39" y="207.3" width="2.6" height="11.7"/><rect x="447.94" y="207.8" width="2.6" height="10.5"/><rect x="454.31" y="194.9" width="2.6" height="36.6"/><rect x="457.49" y="231.5" width="2.6" height="6.6"/><rect x="460.67" y="238.1" width="2.6" height="6.5"/><rect x="463.85" y="244.6" width="2.6" height="16.1"/><rect x="467.03" y="260.7" width="2.6" height="46.8"/><rect x="473.40" y="296.3" width="2.6" height="22.0"/><rect x="476.58" y="318.3" width="2.6" height="1.4"/><rect x="489.31" y="292.6" width="2.6" height="16.9"/><rect x="495.68" y="302.9" width="2.6" height="20.5"/><rect x="502.04" y="304.4" width="2.6" height="13.1"/><rect x="511.59" y="304.4" width="2.6" height="14.6"/><rect x="517.95" y="311.7" width="2.6" height="1.4"/><rect x="521.13" y="313.1" width="2.6" height="5.2"/><rect x="524.32" y="318.3" width="2.6" height="5.9"/><rect x="540.23" y="287.3" width="2.6" height="23.0"/><rect x="546.59" y="303.0" width="2.6" height="9.5"/><rect x="559.32" y="292.0" width="2.6" height="2.2"/><rect x="562.50" y="294.2" width="2.6" height="11.8"/><rect x="565.69" y="306.0" width="2.6" height="1.3"/><rect x="568.87" y="307.3" width="2.6" height="11.7"/><rect x="572.05" y="319.0" width="2.6" height="7.4"/><rect x="575.23" y="326.4" width="2.6" height="21.9"/><rect x="578.41" y="348.3" width="2.6" height="47.6"/><rect x="581.60" y="395.9" width="2.6" height="4.5"/><rect x="587.96" y="395.2" width="2.6" height="25.7"/><rect x="594.33" y="419.1" width="2.6" height="17.9"/><rect x="600.69" y="418.6" width="2.6" height="1.0"/><rect x="607.06" y="416.5" width="2.6" height="9.5"/><rect x="619.78" y="407.0" width="2.6" height="6.6"/><rect x="622.97" y="413.6" width="2.6" height="3.6"/><rect x="626.15" y="417.2" width="2.6" height="5.1"/><rect x="629.33" y="422.3" width="2.6" height="1.4"/><rect x="632.51" y="423.7" width="2.6" height="2.2"/><rect x="635.70" y="425.9" width="2.6" height="7.6"/><rect x="638.88" y="432.9" width="2.6" height="1.0"/><rect x="648.43" y="421.4" width="2.6" height="1.4"/><rect x="657.97" y="405.9" width="2.6" height="1.0"/><rect x="661.15" y="406.5" width="2.6" height="1.0"/><rect x="664.34" y="407.3" width="2.6" height="8.2"/><rect x="667.52" y="415.5" width="2.6" height="10.3"/><rect x="670.70" y="425.8" width="2.6" height="7.3"/><rect x="686.61" y="411.7" width="2.6" height="4.0"/><rect x="696.16" y="385.1" width="2.6" height="2.2"/><rect x="699.34" y="387.3" width="2.6" height="1.5"/><rect x="702.52" y="388.8" width="2.6" height="5.9"/><rect x="705.71" y="394.7" width="2.6" height="2.2"/><rect x="712.07" y="395.4" width="2.6" height="14.6"/><rect x="715.25" y="409.8" width="2.6" height="1.0"/><rect x="724.80" y="379.9" width="2.6" height="1.0"/><rect x="727.98" y="380.8" width="2.6" height="2.4"/><rect x="731.17" y="383.2" width="2.6" height="3.4"/><rect x="734.35" y="386.6" width="2.6" height="3.0"/><rect x="737.53" y="389.5" width="2.6" height="1.0"/><rect x="740.71" y="390.4" width="2.6" height="2.2"/><rect x="743.89" y="392.6" width="2.6" height="2.2"/><rect x="750.26" y="386.7" width="2.6" height="3.7"/><rect x="759.81" y="380.1" width="2.6" height="8.8"/><rect x="766.17" y="379.1" width="2.6" height="1.0"/><rect x="775.72" y="372.2" width="2.6" height="2.3"/><rect x="778.90" y="374.5" width="2.6" height="2.0"/><rect x="782.08" y="376.5" width="2.6" height="3.6"/><rect x="785.26" y="380.1" width="2.6" height="6.3"/><rect x="788.45" y="386.4" width="2.6" height="2.0"/><rect x="791.63" y="388.4" width="2.6" height="27.1"/><rect x="801.18" y="408.0" width="2.6" height="1.0"/><rect x="807.54" y="407.5" width="2.6" height="1.4"/><rect x="813.91" y="407.5" width="2.6" height="15.3"/><rect x="817.09" y="422.8" width="2.6" height="2.2"/><rect x="820.27" y="425.0" width="2.6" height="5.7"/><rect x="826.63" y="421.9" width="2.6" height="5.9"/><rect x="836.18" y="423.6" width="2.6" height="1.8"/><rect x="839.36" y="425.4" width="2.6" height="2.2"/><rect x="845.73" y="425.4" width="2.6" height="2.9"/><rect x="848.91" y="428.3" width="2.6" height="11.7"/><rect x="871.19" y="396.8" width="2.6" height="26.5"/><rect x="877.55" y="422.5" width="2.6" height="6.2"/><rect x="887.10" y="424.3" width="2.6" height="8.0"/><rect x="893.46" y="430.1" width="2.6" height="8.1"/><rect x="896.64" y="438.2" width="2.6" height="5.1"/><rect x="903.01" y="432.3" width="2.6" height="1.1"/><rect x="906.19" y="433.4" width="2.6" height="4.4"/><rect x="909.37" y="437.8" width="2.6" height="1.1"/><rect x="915.74" y="434.5" width="2.6" height="2.4"/><rect x="925.29" y="430.1" width="2.6" height="1.5"/><rect x="928.47" y="431.6" width="2.6" height="2.2"/><rect x="931.65" y="433.8" width="2.6" height="2.9"/><rect x="941.20" y="421.4" width="2.6" height="2.2"/><rect x="944.38" y="423.6" width="2.6" height="2.9"/><rect x="947.56" y="426.5" width="2.6" height="5.1"/><rect x="950.74" y="431.6" width="2.6" height="1.5"/><rect x="957.11" y="432.0" width="2.6" height="3.3"/><rect x="960.29" y="435.1" width="2.6" height="1.0"/><rect x="969.84" y="432.8" width="2.6" height="2.5"/><rect x="973.02" y="435.0" width="2.6" height="1.7"/><rect x="982.57" y="430.1" width="2.6" height="4.4"/><rect x="985.75" y="434.5" width="2.6" height="1.5"/><rect x="988.93" y="435.5" width="2.6" height="1.4"/><rect x="1001.66" y="430.1" width="2.6" height="3.7"/><rect x="1011.21" y="415.5" width="2.6" height="6.6"/><rect x="1020.75" y="416.2" width="2.6" height="1.7"/><rect x="1023.94" y="417.6" width="2.6" height="1.6"/><rect x="1027.12" y="418.6" width="2.6" height="1.2"/><rect x="1030.30" y="419.8" width="2.6" height="3.6"/><rect x="1043.03" y="409.5" width="2.6" height="5.1"/><rect x="1046.21" y="414.6" width="2.6" height="4.4"/><rect x="1049.40" y="419.0" width="2.6" height="23.5"/><rect x="1052.58" y="442.5" width="2.6" height="30.7"/><rect x="1058.94" y="453.0" width="2.6" height="6.4"/><rect x="1062.12" y="459.4" width="2.6" height="3.0"/><rect x="1065.31" y="462.4" width="2.6" height="6.5"/><rect x="1074.85" y="461.7" width="2.6" height="2.2"/><rect x="1087.58" y="463.2" width="2.6" height="5.8"/><rect x="1090.77" y="469.0" width="2.6" height="5.9"/><rect x="1100.31" y="463.9" width="2.6" height="1.5"/><rect x="1103.49" y="465.1" width="2.6" height="1.5"/><rect x="1106.68" y="465.4" width="2.6" height="1.2"/><rect x="1109.86" y="466.1" width="2.6" height="1.0"/><rect x="1113.04" y="466.9" width="2.6" height="2.9"/><rect x="1122.59" y="458.0" width="2.6" height="3.0"/><rect x="1128.95" y="459.4" width="2.6" height="1.6"/></g>
<rect x="223.9" y="97" width="126.7" height="130.1" fill="none" stroke="#F7403F" stroke-width="3.5" rx="1"/>
</svg>
<svg style="position:absolute;left:0;top:0" width="260" height="24" viewBox="0 0 260 24">
<circle cx="10.4" cy="11" r="7.8" fill="#F7931A"/>
<text x="10.5" y="14.6" font-family="Liberation Sans" font-weight="bold" font-size="10" fill="#fff" text-anchor="middle" transform="rotate(12 10.4 11)">B</text>
<circle cx="236.5" cy="11.2" r="7.5" fill="#dff2ee"/>
<circle cx="236.5" cy="11.2" r="3.3" fill="#089981"/>
</svg>
<div class="title">Bitcoin / TetherUS · 1D · Binance</div>
<div class="o k" style="left:251.4px">O</div><div class="o" style="left:262px">72,815.25</div><div class="o k" style="left:321.2px">H</div><div class="o" style="left:331.2px">74,451.03</div><div class="o k" style="left:391.2px">L</div><div class="o" style="left:398.7px">72,270.41</div><div class="o k" style="left:458.2px">C</div><div class="o" style="left:467.8px">74,025.91</div><div class="o" style="left:528.7px;letter-spacing:0.58px">+1,210.67</div><div class="o" style="left:587.2px;letter-spacing:0.47px">(+1.66%)</div>
<div class="box sell"><div class="v">74,025.91</div><div class="s">SELL</div></div>
<div class="spread">0.01</div>
<div class="box buy"><div class="v">74,025.92</div><div class="s">BUY</div></div>
<div class="pl" style="top:8.20px">55,000.00</div>
<div class="pl" style="top:37.47px">52,500.00</div>
<div class="pl" style="top:66.74px">50,000.00</div>
<div class="pl" style="top:96.01px">47,500.00</div>
<div class="pl" style="top:125.28px">45,000.00</div>
<div class="pl" style="top:154.55px">42,500.00</div>
<div class="pl" style="top:183.82px">40,000.00</div>
<div class="pl" style="top:213.09px">37,500.00</div>
<div class="pl" style="top:242.36px">35,000.00</div>
<div class="pl" style="top:271.63px">32,500.00</div>
<div class="pl" style="top:300.90px">30,000.00</div>
<div class="pl" style="top:330.17px">27,500.00</div>
<div class="pl" style="top:359.44px">25,000.00</div>
<div class="pl" style="top:388.71px">22,500.00</div>
<div class="pl" style="top:417.98px">20,000.00</div>
<div class="pl" style="top:447.25px">17,500.00</div>
<div class="pl" style="top:476.52px">15,000.00</div>
<div class="pl" style="top:505.79px">12,500.00</div>
<div class="tag">16,885.20</div>
<div class="taxis">
<div class="tl b" style="left:31.00px">2022</div>
<div class="tl" style="left:129.70px">Feb</div>
<div class="tl" style="left:219.00px">Mar</div>
<div class="tl" style="left:318.00px">Apr</div>
<div class="tl" style="left:413.00px">May</div>
<div class="tl" style="left:512.00px">Jun</div>
<div class="tl" style="left:607.00px">Jul</div>
<div class="tl" style="left:706.00px">Aug</div>
<div class="tl" style="left:804.40px">Sep</div>
<div class="tl" style="left:900.50px">Oct</div>
<div class="tl" style="left:998.60px">Nov</div>
<div class="tl" style="left:1093.90px">Dec</div>
</div>
<svg style="position:absolute;left:0;top:490px" width="36" height="24" viewBox="0 490 36 24">
<path d="M5 496.2H15.3V508.7H10.2V500.6H5Z" fill="#0c0e15"/>
<circle cx="19.6" cy="498.5" r="2.3" fill="#0c0e15"/>
<path d="M25.4 496.2H31L25.7 508.7H20.1Z" fill="#0c0e15"/>
</svg>
<div class="logo">TradingView</div>
<svg style="position:absolute;left:1160px;top:525px" width="20" height="17" viewBox="1160 525 20 17">
<path d="M1166.2 528.5H1172.6L1175.6 533.3L1172.6 538.2H1166.2L1163.2 533.3Z" fill="none" stroke="#131722" stroke-width="0.95" stroke-linejoin="round"/>
<path d="M1169.4 531.2L1171.6 533.4L1169.4 535.6L1167.2 533.4Z" fill="none" stroke="#131722" stroke-width="0.95" stroke-linejoin="round"/>
</svg>
<div class="bline"></div>
</div></body></html>
